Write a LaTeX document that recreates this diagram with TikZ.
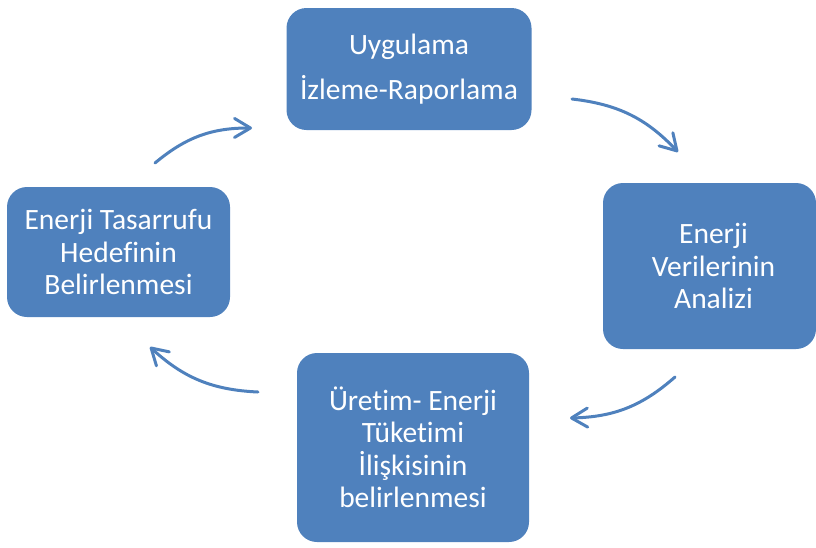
\documentclass[tikz,border=0pt]{standalone}
\usepackage{fontspec}
\setmainfont{Carlito}[Ligatures=NoCommon]
\usetikzlibrary{arrows.meta}
\definecolor{boxblue}{HTML}{4F81BD}
\begin{document}
\begin{tikzpicture}[x=1pt,y=-1pt,
  box/.style={fill=boxblue, rounded corners=20pt, text=white, align=center,
    font=\fontsize{29.5}{32.5}\selectfont, inner sep=0pt},
  cyc/.style={draw=boxblue, line width=3pt, line cap=round,
    -{Straight Barb[length=16pt,width=19pt,line cap=round,line join=round]}}]
\useasboundingbox (0,0) rectangle (816,547);
\node[box, minimum width=245pt, minimum height=122pt] (top) at (409,69)
  {Uygulama\\[12pt]İzleme-Raporlama};
\node[box, minimum width=213pt, minimum height=166pt] (right) at (709.5,266)
  {\hspace*{8pt}Enerji\\\hspace*{8pt}Verilerinin\\\hspace*{8pt}Analizi};
\node[box, minimum width=232pt, minimum height=189pt] (bottom) at (413,447.5)
  {Üretim- Enerji\\Tüketimi\\İlişkisinin\\belirlenmesi};
\node[box, minimum width=223pt, minimum height=130pt] (left) at (118.5,252)
  {Enerji Tasarrufu\\Hedefinin\\Belirlenmesi};
\coordinate (a1s) at (572,99);  \coordinate (a1e) at (678,152);
\coordinate (a2s) at (675,377); \coordinate (a2e) at (570,418);
\coordinate (a3s) at (258,392); \coordinate (a3e) at (150,347);
\coordinate (a4s) at (155,163); \coordinate (a4e) at (252,128);
\draw[cyc] (a1s) to[bend left=20] (a1e);
\draw[cyc] (a2s) to[bend left=20] (a2e);
\draw[cyc] (a3s) to[bend left=20] (a3e);
\draw[cyc] (a4s) to[bend left=20] (a4e);
\end{tikzpicture}
\end{document}
